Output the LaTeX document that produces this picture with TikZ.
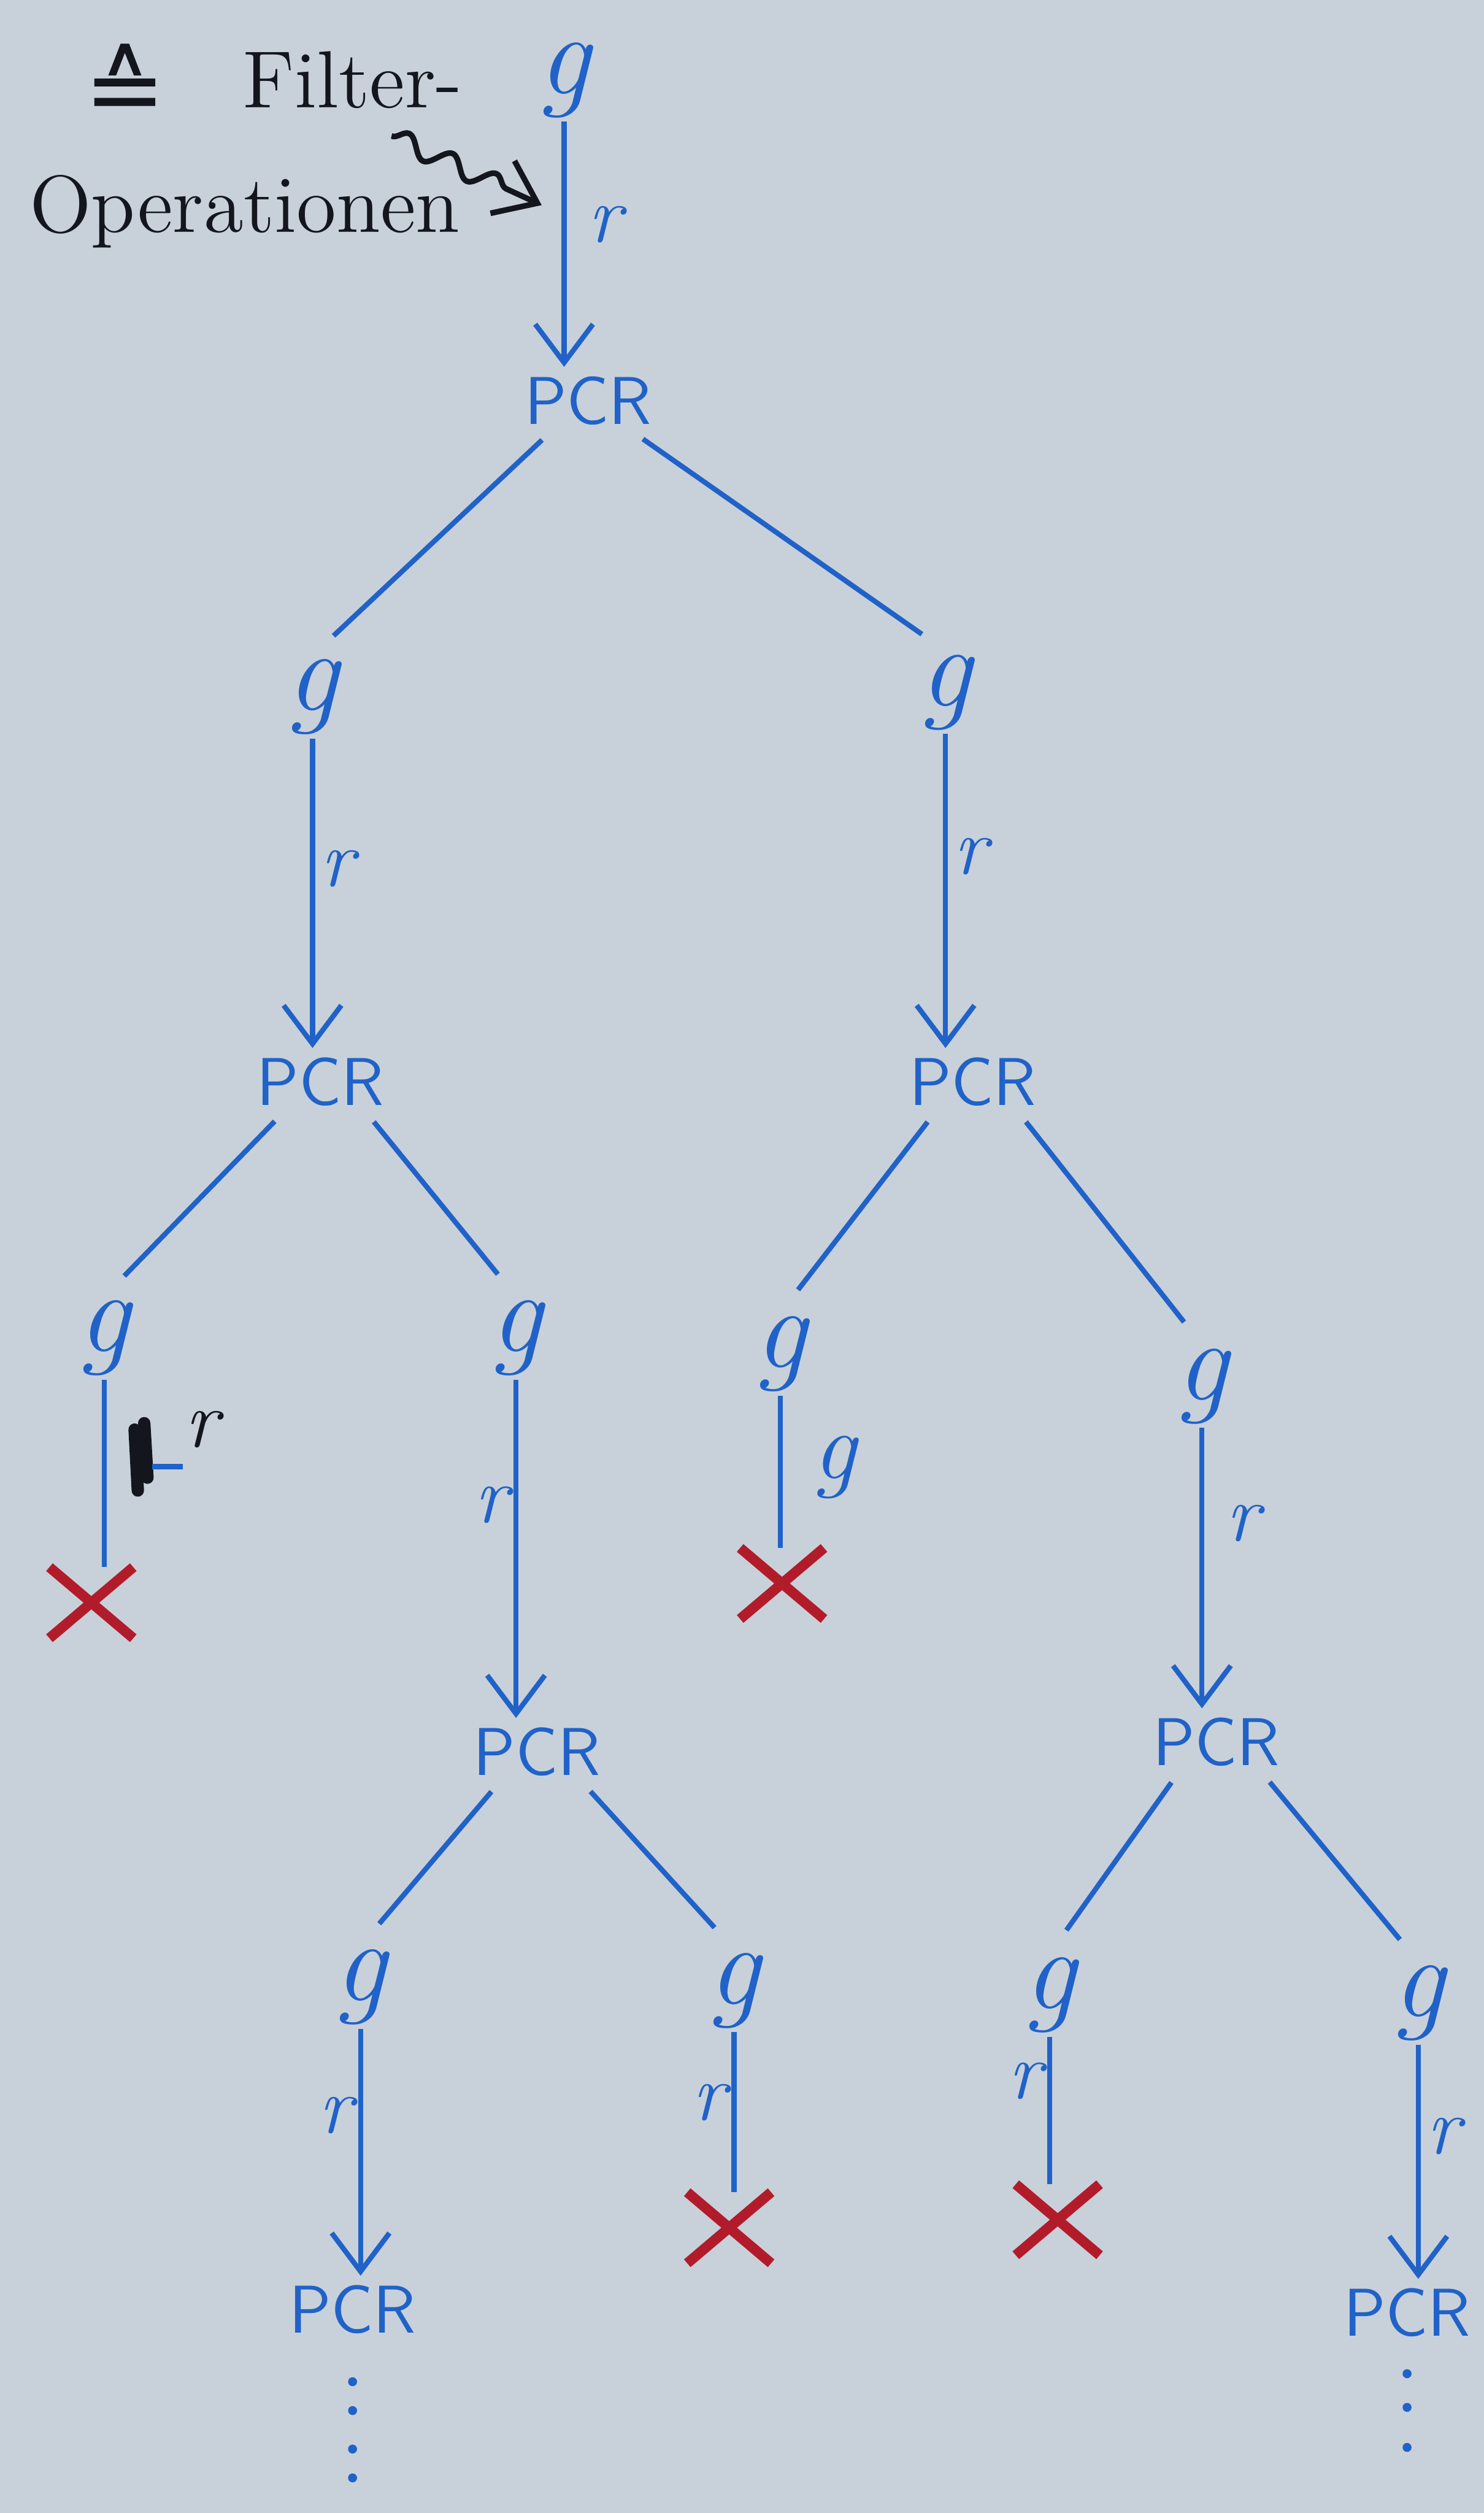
\documentclass[tikz,border=0pt]{standalone}
\usepackage{amsmath, amssymb}
\usepackage{fontspec}
\usepackage{xcolor}
\usepackage{tikz}
\usetikzlibrary{arrows.meta, shapes.misc, positioning, decorations.pathmorphing}

\newfontfamily\symfont{DejaVu Sans}
\definecolor{board}{RGB}{200,209,218}
\definecolor{pen}{RGB}{32,98,200}
\definecolor{ink}{RGB}{20,22,30}
\definecolor{cross}{RGB}{178,28,42}

\begin{document}
\begin{tikzpicture}[>={Straight Barb[length=2.4mm,width=3.6mm]},
    gnode/.style={text=pen, font=\huge\itshape, inner sep=0.5pt},
    pcr/.style={text=pen, font=\large\sffamily, inner sep=1.5pt},
    xmark/.style={cross out, draw=cross, line width=1.8pt, minimum width=4.6mm, minimum height=3.8mm, inner sep=0pt},
    link/.style={pen, line width=0.9pt, shorten >=1.8mm, shorten <=0.5mm},
    flow/.style={pen, line width=0.9pt, ->},
    stem/.style={pen, line width=0.9pt},
    lbl/.style={text=pen, font=\Large\itshape, inner sep=1pt},
    note/.style={text=ink, font=\Large}]
    \useasboundingbox (0,0) rectangle (9.26,-15.68);
    \clip (0,0) rectangle (9.26,-15.68);
    \fill[board] (0,0) rectangle (9.26,-15.68);

    % Beschriftung oben links
    \node[note, inner sep=0pt, font=\LARGE\symfont] (eqv) at (0.78,-0.52) {≙};
    \node[note] (flt) at (2.20,-0.50) {Filter-};
    \node[note, anchor=west] (ops) at (0.06,-1.32) {Operationen};
    \coordinate (tip) at (3.38,-1.28);
    \draw[ink, line width=1pt, decorate, decoration={snake, amplitude=0.6mm, segment length=3mm, post length=1.5mm}, ->] ([shift={(-0.55,0.12)}]ops.north east) -- (tip);

    % Knoten
    \node[gnode] (g0) at (3.52,-0.50) {g};
    \node[pcr] (p0) at (3.67,-2.50) {PCR};
    \node[gnode] (gl) at (1.95,-4.35) {g};
    \node[gnode] (gr) at (5.90,-4.32) {g};
    \node[pcr] (pl) at (2.00,-6.75) {PCR};
    \node[pcr] (pr) at (6.07,-6.75) {PCR};
    \node[gnode] (gll) at (0.65,-8.35) {g};
    \node[gnode] (glr) at (3.22,-8.35) {g};
    \node[gnode] (grl) at (4.87,-8.45) {g};
    \node[gnode] (grr) at (7.50,-8.65) {g};
    \node[xmark] (xll) at (0.57,-10.00) {};
    \node[pcr] (plr) at (3.35,-10.93) {PCR};
    \node[xmark] (xrl) at (4.88,-9.88) {};
    \node[pcr] (prr) at (7.59,-10.87) {PCR};
    \node[gnode] (glrl) at (2.25,-12.40) {g};
    \node[gnode] (glrr) at (4.58,-12.42) {g};
    \node[gnode] (grrl) at (6.55,-12.45) {g};
    \node[gnode] (grrr) at (8.85,-12.50) {g};
    \node[pcr] (plrl) at (2.20,-14.41) {PCR};
    \node[xmark] (xlrr) at (4.55,-13.90) {};
    \node[xmark] (xrrl) at (6.60,-13.85) {};
    \node[pcr] (prrr) at (8.78,-14.43) {PCR};

    % Pfeile g -> PCR
    \draw[flow] (g0.south) -- (g0.south |- p0.north) node[lbl, pos=.42, right=1mm] {r};
    \draw[flow] (gl.south) -- (gl.south |- pl.north) node[lbl, pos=.42, right] {r};
    \draw[flow] (gr.south) -- (gr.south |- pr.north) node[lbl, pos=.39, right] {r};
    \draw[flow] (glr.south) -- (glr.south |- plr.north) node[lbl, pos=.37, left] {r};
    \draw[flow] (grr.south) -- (grr.south |- prr.north) node[lbl, pos=.34, right=1mm] {r};
    \draw[flow] (glrl.south) -- (glrl.south |- plrl.north) node[lbl, pos=.35, left] {r};
    \draw[flow] (grrr.south) -- (grrr.south |- prrr.north) node[lbl, pos=.39, right] {r};

    % Verzweigungen
    \foreach \p/\a/\b in {p0/gl/gr, pl/gll/glr, pr/grl/grr, plr/glrl/glrr, prr/grrl/grrr} {
        \draw[link] (\p.-140) -- (\a.north);
        \draw[link] (\p.-35) -- (\b.north);
    }

    % Abbrueche
    \draw[stem] (gll.south) -- (gll.south |- xll.north);
    \node[note, font=\Large\itshape] (rx) at (1.26,-8.92) {r};
    \draw[ink, line width=2.2pt, line cap=round] (0.84,-8.92) -- (0.86,-9.30) (0.90,-8.88) -- (0.92,-9.22);
    \draw[pen, line width=1pt] (0.95,-9.15) -- (1.14,-9.15);
    \draw[stem] (grl.south) -- (grl.south |- xrl.north) node[lbl, pos=.47, right=1.5mm, font=\LARGE\itshape] {g};
    \draw[stem] (glrr.south) -- (glrr.south |- xlrr.north) node[lbl, pos=.44, left] {r};
    \draw[stem] (grrl.south) -- (grrl.south |- xrrl.north) node[lbl, pos=.30, left] {r};

    % Punkte
    \foreach \d in {0.24,0.42,0.66,0.84}
        \fill[pen] ([yshift=-\d cm]plrl.south) circle (0.028);
    \foreach \d in {0.17,0.38,0.63}
        \fill[pen] ([yshift=-\d cm]prrr.south) circle (0.028);
\end{tikzpicture}
\end{document}
